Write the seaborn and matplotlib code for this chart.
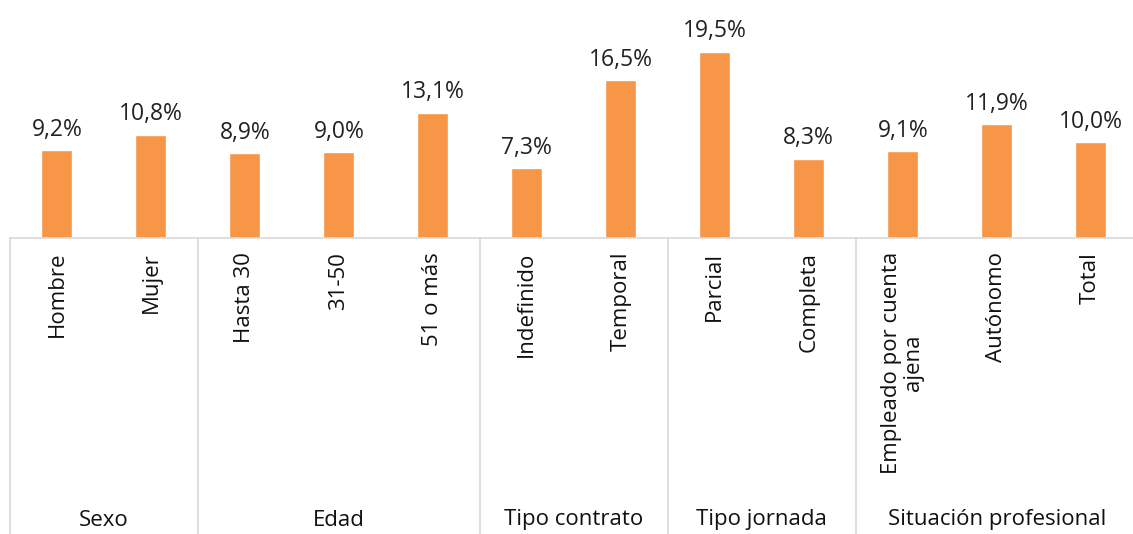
import matplotlib.pyplot as plt
import matplotlib.transforms as mtransforms
import pandas as pd
import seaborn as sns

# Values (percent)
categories = ['Hombre', 'Mujer', 'Hasta 30', '31-50', '51 o más',
              'Indefinido', 'Temporal', 'Parcial', 'Completa',
              'Empleado por cuenta\najena', 'Autónomo', 'Total']
values = [9.2, 10.8, 8.9, 9.0, 13.1, 7.3, 16.5, 19.5, 8.3, 9.1, 11.9, 10.0]
groups = ['Sexo', 'Edad', 'Tipo contrato', 'Tipo jornada', 'Situación profesional']
group_sizes = [2, 3, 2, 2, 3]

df = pd.DataFrame({'cat': categories, 'val': values})

sns.set_theme(style='white')
plt.rcParams['font.family'] = ['Open Sans', 'DejaVu Sans']

fig = plt.figure(figsize=(11.33, 5.34), dpi=100)
# plot area: top of figure down to the axis line (~238 px)
ax = fig.add_axes([10 / 1133, 1 - 238 / 534, 1 - 10 / 1133, 238 / 534])

sns.barplot(data=df, x='cat', y='val', color='#F79646', width=0.33,
            saturation=1, ax=ax)

labels = [f'{v:.1f}%'.replace('.', ',') for v in values]
ax.bar_label(ax.containers[0], labels=labels, padding=6, fontsize=16.5,
             color='#222222')

ax.set_xlim(-0.5, 11.45)
ax.set_ylim(0, 24.9)
ax.set_xlabel('')
ax.set_ylabel('')
ax.set_yticks([])
ax.tick_params(axis='x', length=0, pad=10)
plt.setp(ax.get_xticklabels(), rotation=90, fontsize=16, color='#111111',
         va='top', ha='center', linespacing=1.05)

for side in ['top', 'right', 'left']:
    ax.spines[side].set_visible(False)
ax.spines['bottom'].set_color('#d9d9d9')
ax.spines['bottom'].set_linewidth(1.2)

# group separators and group labels below the axis
trans = mtransforms.blended_transform_factory(ax.transData, ax.transAxes)
bottom = -296 / 238
start = -0.5
for name, n in zip(groups, group_sizes):
    ax.plot([start, start], [0, bottom], color='#d9d9d9', lw=1.2,
            transform=trans, clip_on=False)
    mid = start + n / 2
    ax.text(mid, -282 / 238, name, transform=trans, ha='center',
            va='center', fontsize=16, color='#111111')
    start += n

fig.savefig('out.png', dpi=100, facecolor='white')
